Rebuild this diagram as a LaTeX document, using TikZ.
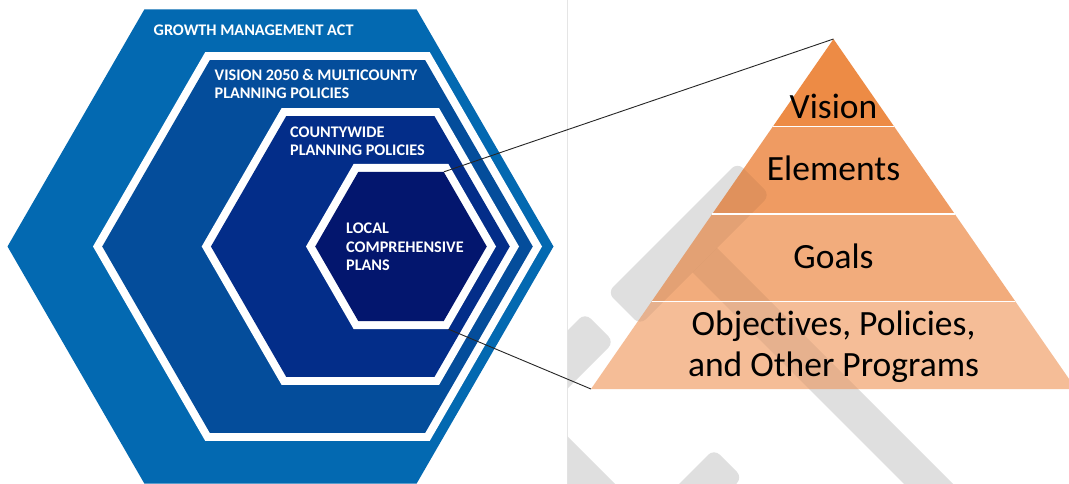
\documentclass[tikz,border=0pt]{standalone}
\usepackage{fontspec}
\setmainfont{Carlito}[Ligatures=NoCommon]
% hexagon with pointed left/right tips: #1 left tip x, #2 right tip x, #3 top y, #4 bottom y
\newcommand\hexp[4]{({#1},{((#3)+(#4))/2}) -- ({(#1)+((#4)-(#3))*0.288675},{#3}) -- ({(#2)-((#4)-(#3))*0.288675},{#3}) -- ({#2},{((#3)+(#4))/2}) -- ({(#2)-((#4)-(#3))*0.288675},{#4}) -- ({(#1)+((#4)-(#3))*0.288675},{#4}) -- cycle}
% nested hexagon: white rim of 8px around a coloured core
\newcommand\rimhex[5]{%
  \fill[white] \hexp{#1}{#2}{#3}{#4};
  \fill[#5] \hexp{(#1)+9.24}{(#2)-9.24}{(#3)+8}{(#4)-8};}
% background watermark strokes
\newcommand\wmshapes[1]{%
  \fill[#1, rounded corners=8pt] (607.5,292.5) -- (737.5,162.5) -- (770,195) -- (640,325) -- cycle;
  \fill[#1] (692.5,272.5) -- (717,248) -- (990,521) -- (965.5,545.5) -- cycle;
  \fill[#1, rounded corners=8pt] (585,313) -- (614,342) -- (448,508) -- (419,479) -- cycle;
  \fill[#1] (540.5,409.5) -- (765.5,634.5) -- (720,680) -- (495,455) -- cycle;
  \fill[#1, rounded corners=8pt] (714,449) -- (742.5,477.5) -- (660,560) -- (631.5,531.5) -- cycle;}
\definecolor{gma}{HTML}{0369B1}
\definecolor{vis}{HTML}{044D9B}
\definecolor{cpp}{HTML}{032D89}
\definecolor{lcp}{HTML}{03166E}
\definecolor{wm}{HTML}{DFDFDF}
\definecolor{pyA}{HTML}{ED8B45}
\definecolor{pyB}{HTML}{EF9B62}
\definecolor{pyC}{HTML}{F2AC7C}
\definecolor{pyD}{HTML}{F5BD97}
\begin{document}
\begin{tikzpicture}[x=1pt,y=-1pt,
  lbl/.style={anchor=base west, inner sep=0pt, text=white, font=\fontsize{16.2}{18.5}\selectfont\bfseries},
  plbl/.style={anchor=base, inner sep=0pt, text=black, font=\fontsize{35.5}{40}\selectfont},
  link/.style={draw=black!85, line width=0.9pt},
  sep/.style={draw=white, line width=1.5pt}]
\useasboundingbox (0,0) rectangle (1069,484);
\fill[white] (0,0) rectangle (1069,484);

% nested hexagons
\fill[gma] \hexp{7.5}{553.5}{9.5}{483.5};
\rimhex{93}{542}{52.2}{440.8}{vis}
\rimhex{201.7}{519}{108.2}{384.8}{cpp}
\rimhex{306}{496}{163.8}{329.2}{lcp}

% divider
\coordinate (divtop) at (567,0);
\coordinate (divbot) at (567,484);
\draw[black!10, line width=0.8pt] (divtop) -- (divbot);

% watermark
\begin{scope}
  \clip (567.5,0) rectangle (1069,484);
  \wmshapes{wm}
\end{scope}

% pyramid
\coordinate (apex) at (833.5,39);
\coordinate (baseL) at (591,389);
\coordinate (baseR) at (1076,389);
\fill[pyA] (apex) -- (894.1,126.5) -- (772.9,126.5) -- cycle;
\fill[pyB] (772.9,126.5) -- (894.1,126.5) -- (954.75,214) -- (712.25,214) -- cycle;
\fill[pyC] (712.25,214) -- (954.75,214) -- (1015.4,301.5) -- (651.6,301.5) -- cycle;
\fill[pyD] (651.6,301.5) -- (1015.4,301.5) -- (baseR) -- (baseL) -- cycle;
\begin{scope}
  \clip (apex) -- (baseR) -- (baseL) -- cycle;
  \wmshapes{black, opacity=0.06}
\end{scope}
\draw[sep] (772.9,126.5) -- (894.1,126.5);
\draw[sep] (712.25,214) -- (954.75,214);
\draw[sep] (651.6,301.5) -- (1015.4,301.5);

% connectors from the local plans hexagon to the pyramid
\coordinate (lcpTR) at (444,171.8);
\coordinate (lcpBR) at (448.5,329.2);
\draw[link] (lcpTR) -- (apex);
\draw[link] (lcpBR) -- (baseL);

% hexagon labels
\node[lbl] (gmaT) at (153.5,35.7) {GROWTH MANAGEMENT ACT};
\node[lbl] (visT1) at (214.5,81) {VISION 2050 \& MULTICOUNTY};
\node[lbl] (visT2) at (214.5,99) {PLANNING POLICIES};
\node[lbl] (cppT1) at (290,137.3) {COUNTYWIDE};
\node[lbl] (cppT2) at (290,155.7) {PLANNING POLICIES};
\node[lbl] (lcpT1) at (346,233.3) {LOCAL};
\node[lbl] (lcpT2) at (346,252) {COMPREHENSIVE};
\node[lbl] (lcpT3) at (346,270.7) {PLANS};

% pyramid labels (kern keeps t and i as separate glyphs)
\node[plbl] (pA) at (833.5,119) {Vision};
\node[plbl] (pB) at (833.5,181) {Elements};
\node[plbl] (pC) at (833.5,268) {Goals};
\node[plbl] (pD1) at (833.5,335) {Object\kern0pt ives, Policies,};
\node[plbl] (pD2) at (833.5,376) {and Other Programs};
\end{tikzpicture}
\end{document}
